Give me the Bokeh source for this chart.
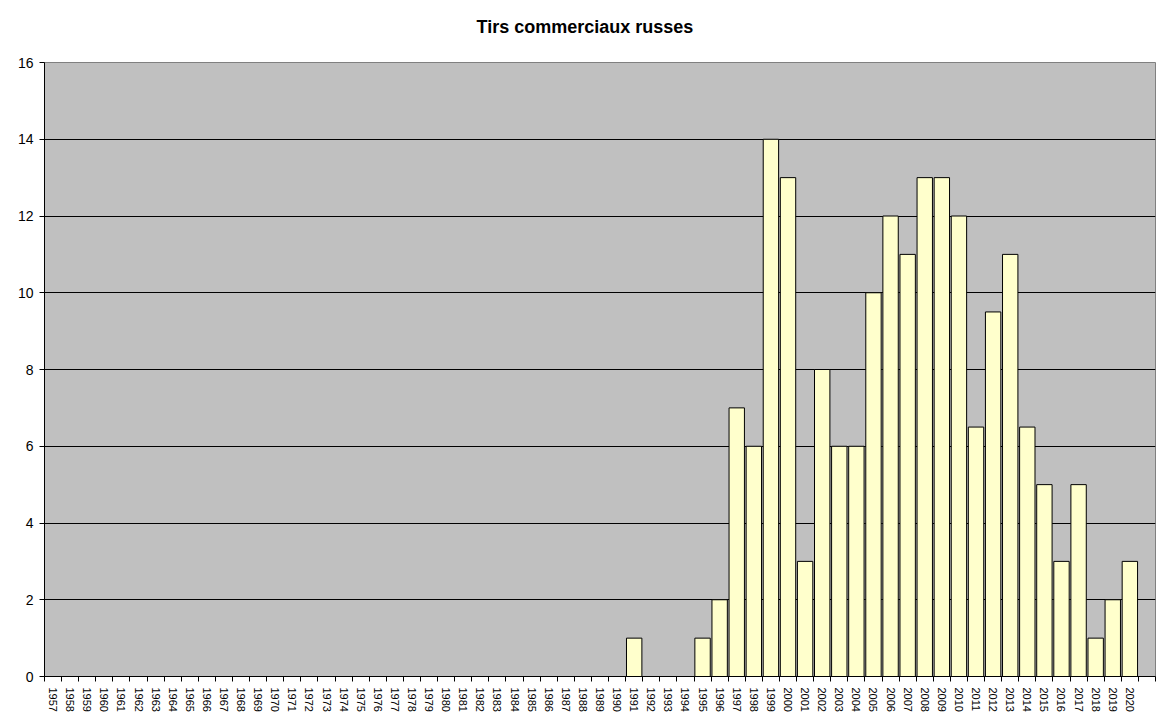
from bokeh.plotting import figure
from bokeh.models import FixedTicker, Range1d, ColumnDataSource, LinearAxis
from bokeh.embed import file_html
from bokeh.resources import INLINE

title_text = "Tirs commerciaux russes"
years = [str(y) for y in range(1957, 2021)] + [""]
launches = [0] * 34 + [1, 0, 0, 0, 1, 2, 7, 6, 14, 13, 3, 8, 6, 6, 10, 12, 11, 13, 13, 12,
                       6.5, 9.5, 11, 6.5, 5, 3, 5, 1, 2, 3] + [0]
y_ticks = [0, 2, 4, 6, 8, 10, 12, 14, 16]

n = len(years)
idx = list(range(n))
src = ColumnDataSource(dict(x=idx[:-1], top=launches[:-1]))

p = figure(width=1165, height=715, output_backend="svg", toolbar_location=None,
           frame_width=1111, frame_height=614,
           x_range=Range1d(-0.5, n - 0.5), y_range=Range1d(0, 16),
           min_border_left=44, min_border_top=62, min_border_right=10, min_border_bottom=39)

xa = p.below[0]

# invisible spacer between title and plot area
spacer = LinearAxis(ticker=FixedTicker(ticks=[0]), major_tick_out=21, major_tick_in=0,
                    axis_line_color=None, major_tick_line_color=None,
                    minor_tick_line_color=None, major_label_standoff=0,
                    major_label_text_font_size="0px", major_label_text_color=None)
p.add_layout(spacer, "above")

p.title.text = title_text
p.title.align = "left"
p.title.vertical_align = "bottom"
p.title.text_font = "Liberation Sans"
p.title.text_font_size = "18px"
p.title.text_font_style = "bold"
p.title.text_color = "black"
p.title.offset = 432
p.title.standoff = 10

p.background_fill_color = "#C0C0C0"
p.border_fill_color = "white"
p.outline_line_color = "#808080"
p.outline_line_width = 1

p.vbar(x="x", top="top", bottom=0, width=0.9, source=src,
       fill_color="#FFFFCC", line_color="black", line_width=1)

# x axis: labels centred on bars, tick marks at category boundaries
xa.ticker = FixedTicker(ticks=idx, minor_ticks=[i - 0.5 for i in range(n + 1)])
xa.major_label_overrides = {i: years[i] for i in idx}
xa.major_label_orientation = "vertical"
xa.major_label_text_font = "Liberation Sans"
xa.major_label_text_font_size = "11px"
xa.major_label_text_color = "black"
xa.major_tick_out = 0
xa.major_tick_in = 0
xa.minor_tick_out = 5
xa.minor_tick_in = 0
xa.minor_tick_line_color = "black"
xa.axis_line_color = "black"
xa.major_label_standoff = 6

p.yaxis.ticker = FixedTicker(ticks=y_ticks)
p.yaxis.major_label_text_font = "Liberation Sans"
p.yaxis.major_label_text_font_size = "14px"
p.yaxis.major_label_text_color = "black"
p.yaxis.major_tick_out = 5
p.yaxis.major_tick_in = 0
p.yaxis.minor_tick_out = 0
p.yaxis.minor_tick_in = 0
p.yaxis.axis_line_color = "black"
p.yaxis.major_tick_line_color = "black"
p.yaxis.major_label_standoff = 6

p.xgrid.grid_line_color = None
p.ygrid.grid_line_color = "black"
p.ygrid.grid_line_width = 1
p.ygrid.ticker = FixedTicker(ticks=y_ticks[1:-1])

open("out.html", "w").write(file_html(p, INLINE))
